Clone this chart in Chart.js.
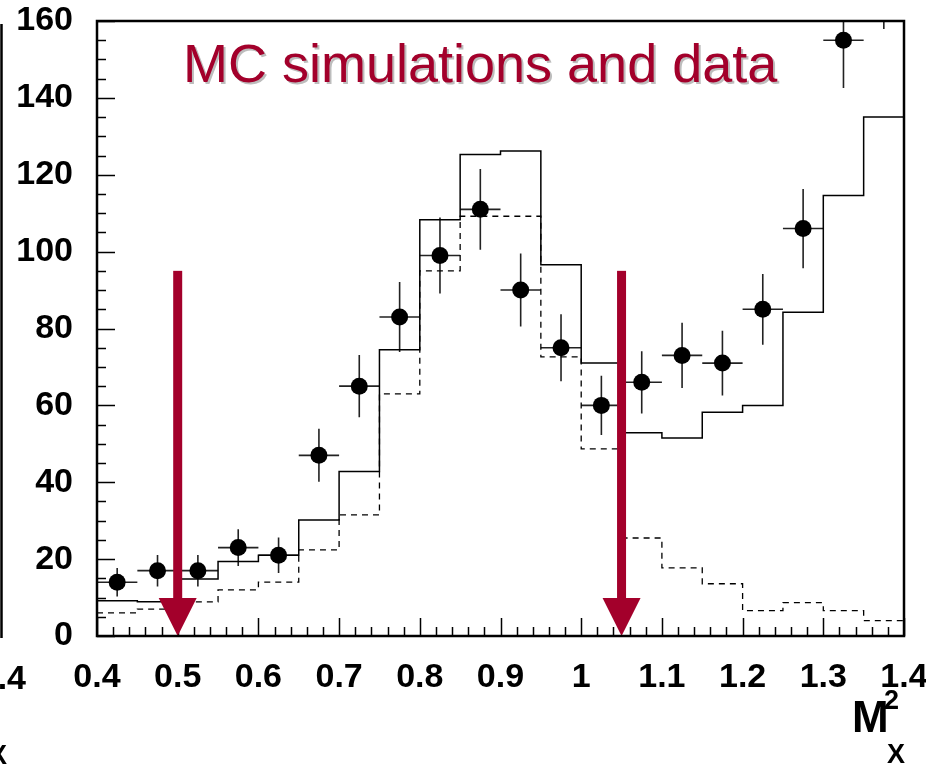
<!DOCTYPE html>
<html>
<head>
<meta charset="utf-8">
<script src="https://cdn.jsdelivr.net/npm/chart.js@4"></script>
<style>
  html, body { margin: 0; padding: 0; background: #fff; }
  #wrap { width: 926px; height: 768px; }
</style>
</head>
<body>
<div id="wrap"><canvas id="c" width="926" height="768"></canvas></div>
<script>
// ─── data ──────────────────────────────────────
const binEdges = [0.4, 0.45, 0.5, 0.55, 0.6, 0.65, 0.7, 0.75, 0.8, 0.85, 0.9,
                  0.95, 1.0, 1.05, 1.1, 1.15, 1.2, 1.25, 1.3, 1.35, 1.4];
// MC total (solid histogram)
const mcTotal = [9.2, 8.9, 14.8, 19.4, 21, 30.2, 42.8, 74.5, 108.3, 125.3,
                 126.2, 96.6, 71, 52.9, 51.5, 58.2, 60, 84.2, 114.6, 135];
// MC signal (dashed histogram)
const mcSignal = [6, 7, 8.9, 12, 14, 22.4, 31.5, 63, 95, 109.2,
                  109.2, 72.6, 48.7, 25.5, 17.7, 13.6, 6.6, 8.7, 6.6, 4];
// data points with errors
const dataX   = [0.425, 0.475, 0.525, 0.575, 0.625, 0.675, 0.725, 0.775, 0.825, 0.875,
                 0.925, 0.975, 1.025, 1.075, 1.125, 1.175, 1.225, 1.275, 1.325, 1.375];
const dataY   = [14, 17, 17, 23, 21, 47, 65, 83, 99, 111,
                 90, 75, 60, 66, 73, 71, 85, 106, 155, 171];
const dataErr = [3.7, 4.1, 4.1, 4.8, 4.6, 6.9, 8.1, 9.1, 9.9, 10.5,
                 9.5, 8.7, 7.7, 8.1, 8.5, 8.4, 9.2, 10.3, 12.4, 13.1];
// cut arrows
const arrowX = [0.5, 1.05];
const arrowTop = 95;

const RED = "#a3002b";
const FONT = "'Liberation Sans', Arial, Helvetica, sans-serif";

// histogram -> step points
function steps(vals) {
  const pts = vals.map((v, i) => ({ x: binEdges[i], y: v }));
  pts.push({ x: binEdges[binEdges.length - 1], y: vals[vals.length - 1] });
  return pts;
}

// ─── frame, ticks, arrows, text ─────────────────
const decor = {
  id: "decor",
  beforeDatasetDraw(chart, args) {
    if (args.index !== 2) return;
    const { ctx, chartArea: a, scales: { x, y } } = chart;
    ctx.save();
    ctx.beginPath();
    ctx.rect(a.left, a.top, a.right - a.left, a.bottom - a.top);
    ctx.clip();
    ctx.strokeStyle = "#222";
    ctx.lineWidth = 1.6;
    dataX.forEach((cx, i) => {
      const px = x.getPixelForValue(cx);
      const py = y.getPixelForValue(dataY[i]);
      ctx.beginPath();
      ctx.moveTo(x.getPixelForValue(cx - 0.025), py);
      ctx.lineTo(x.getPixelForValue(cx + 0.025), py);
      ctx.moveTo(px, y.getPixelForValue(dataY[i] - dataErr[i]));
      ctx.lineTo(px, y.getPixelForValue(dataY[i] + dataErr[i]));
      ctx.stroke();
    });
    ctx.restore();
  },
  afterDatasetsDraw(chart) {
    const { ctx, chartArea: a, scales: { x, y } } = chart;
    ctx.save();
    // ticks inside the frame
    ctx.strokeStyle = "#000";
    ctx.lineWidth = 1.5;
    ctx.beginPath();
    for (let k = 0; k <= 50; k++) {
      const v = 0.4 + k * 0.02;
      const px = Math.round(x.getPixelForValue(v)) + 0.5;
      const len = k % 5 === 0 ? 18 : 9;
      ctx.moveTo(px, a.bottom);
      ctx.lineTo(px, a.bottom - len);
    }
    for (let k = 0; k <= 32; k++) {
      const py = Math.round(y.getPixelForValue(k * 5)) + 0.5;
      const len = k % 4 === 0 ? 18 : 9;
      ctx.moveTo(a.left, py);
      ctx.lineTo(a.left + len, py);
    }
    ctx.stroke();

    // arrows
    ctx.fillStyle = RED;
    arrowX.forEach(v => {
      const px = x.getPixelForValue(v);
      const top = y.getPixelForValue(arrowTop);
      const tip = y.getPixelForValue(0);
      ctx.fillRect(px - 4.5, top, 9, tip - 38 - top);
      ctx.beginPath();
      ctx.moveTo(px - 19, tip - 38);
      ctx.lineTo(px + 19, tip - 38);
      ctx.lineTo(px, tip);
      ctx.closePath();
      ctx.fill();
    });

    // frame
    ctx.lineWidth = 2.5;
    ctx.strokeStyle = "#000";
    ctx.strokeRect(a.left, a.top, a.right - a.left, a.bottom - a.top);

    // title with shadow
    ctx.font = `54px ${FONT}`;
    ctx.textAlign = "left";
    ctx.textBaseline = "alphabetic";
    ctx.fillStyle = "#bdbdbd";
    ctx.fillText("MC simulations and data", 185, 84);
    ctx.fillStyle = RED;
    ctx.fillText("MC simulations and data", 183, 82);

    // axis title M^2_X
    ctx.fillStyle = "#000";
    ctx.font = `bold 44px ${FONT}`;
    ctx.fillText("M", 852, 732);
    ctx.font = `bold 27px ${FONT}`;
    ctx.fillText("2", 884, 709);
    ctx.fillText("X", 887, 763);

    // bits of the neighbouring panel on the left
    ctx.lineWidth = 2.5;
    ctx.beginPath();
    ctx.moveTo(1.5, 24);
    ctx.lineTo(1.5, 638);
    ctx.stroke();
    ctx.font = `bold 34px ${FONT}`;
    ctx.textAlign = "right";
    ctx.fillText("1.4", 26, 689);
    ctx.font = `bold 27px ${FONT}`;
    ctx.fillText("X", 7, 764);
    ctx.restore();
  }
};

new Chart(document.getElementById("c"), {
  type: "scatter",
  data: {
    datasets: [
      {
        type: "line",
        data: steps(mcSignal),
        stepped: "before",
        borderColor: "#000",
        borderWidth: 1.3,
        borderDash: [6, 5],
        pointRadius: 0,
        fill: false
      },
      {
        type: "line",
        data: steps(mcTotal),
        stepped: "before",
        borderColor: "#000",
        borderWidth: 1.5,
        pointRadius: 0,
        fill: false
      },
      {
        data: dataX.map((v, i) => ({ x: v, y: dataY[i] })),
        pointRadius: 8.5,
        pointBackgroundColor: "#000",
        pointBorderColor: "#000",
        pointBorderWidth: 0
      }
    ]
  },
  options: {
    responsive: false,
    animation: false,
    events: [],
    layout: { padding: { left: 0, top: 21, right: 22, bottom: 0 } },
    plugins: { legend: { display: false }, tooltip: { enabled: false } },
    scales: {
      x: {
        type: "linear",
        min: 0.4,
        max: 1.4,
        grid: { display: false, drawTicks: false },
        border: { display: false },
        ticks: {
          stepSize: 0.1,
          padding: 21,
          color: "#000",
          font: { family: FONT, size: 34, weight: "bold" },
          callback: v => String(+v.toFixed(2))
        },
        afterFit(s) { s.height = 132; s.paddingLeft = 0; s.paddingRight = 0; }
      },
      y: {
        min: 0,
        max: 160,
        grid: { display: false, drawTicks: false },
        border: { display: false },
        ticks: {
          stepSize: 20,
          padding: 24,
          color: "#000",
          font: { family: FONT, size: 34, weight: "bold" }
        },
        afterFit(s) { s.width = 97; s.paddingTop = 0; s.paddingBottom = 0; }
      }
    }
  },
  plugins: [decor]
});
</script>
</body>
</html>
